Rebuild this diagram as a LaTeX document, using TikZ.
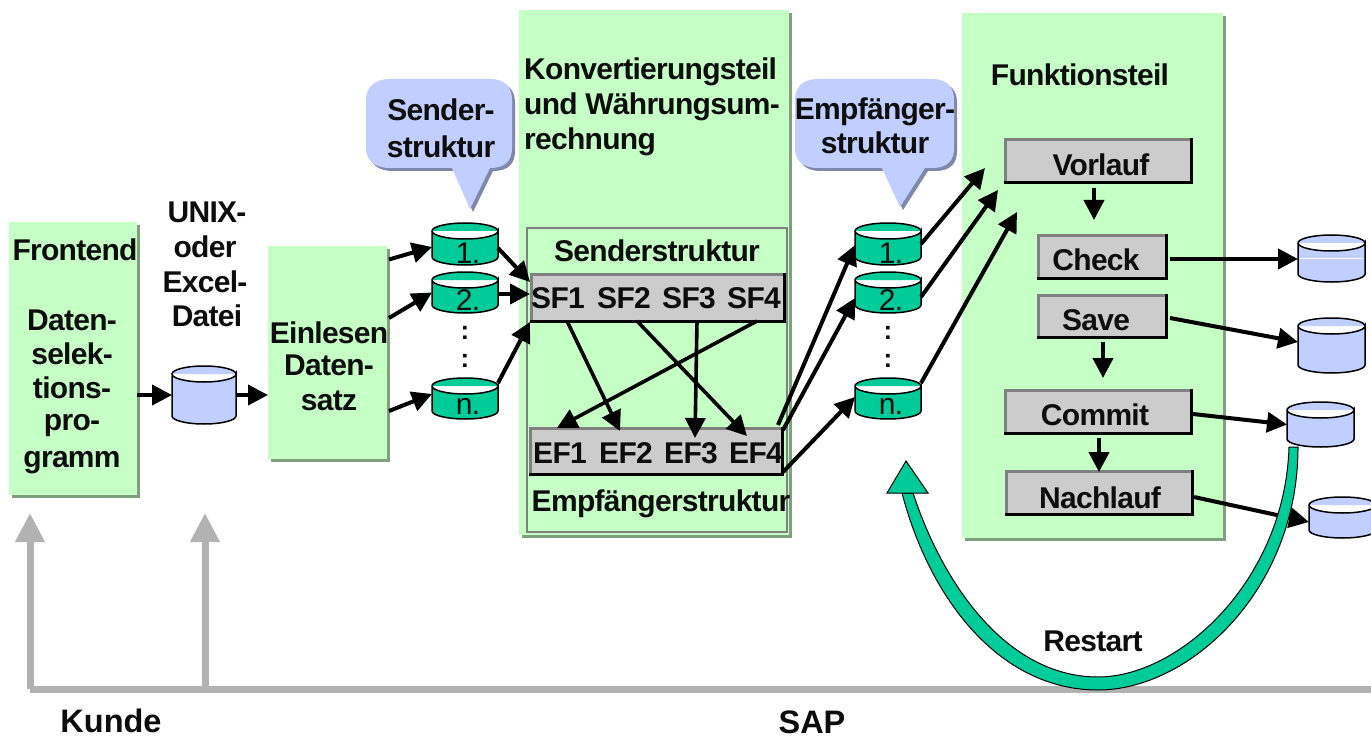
\documentclass[tikz,border=0pt]{standalone}
\usepackage{fontspec}
\setmainfont[LetterSpace=-2.4]{Liberation Sans}
\newfontfamily\widefont{Liberation Sans}
\usetikzlibrary{arrows.meta,calc}
\definecolor{panelgreen}{HTML}{C6FFC6}
\definecolor{panelshadow}{HTML}{7F9F7F}
\definecolor{boxgray}{HTML}{CCCCCC}
\definecolor{edgegray}{HTML}{808080}
\definecolor{cylgreen}{HTML}{00CC99}
\definecolor{cylblue}{HTML}{C0CFFF}
\definecolor{callshadow}{HTML}{8088AA}
\definecolor{linegray}{HTML}{B2B2B2}
\tikzset{
  x=1pt,y=-1pt,
  lbl/.style={font=\fontsize{30}{32}\selectfont\bfseries,inner sep=0pt,text=black!95},
  big/.style={font=\widefont\fontsize{32.5}{34}\selectfont\bfseries,inner sep=0pt,text=black!95},
  num/.style={font=\fontsize{30}{32}\selectfont,inner sep=0pt,text=black!95},
  dots/.style={font=\fontsize{26}{28}\selectfont\bfseries,inner sep=0pt,text=black!95},
  arr/.style={line width=4pt,-{Triangle[length=20pt,width=20pt]}},
  arrthin/.style={line width=3.6pt,-{Triangle[length=20pt,width=20pt]}},
  grayarr/.style={draw=linegray,line width=7pt,-{Triangle[length=29pt,width=28pt,fill=linegray]}},
  anchorbox/.style={inner sep=0pt,outer sep=0pt}
}
% panel with a drop edge
\newcommand{\panelbox}[5]{%
  \fill[panelshadow] (#2+3,#3+3) rectangle (#4+3,#5+3);
  \node[anchorbox,fill=panelgreen,minimum width={(#4-#2)*1pt},minimum height={(#5-#3)*1pt}] (#1) at ({(#2+#4)/2},{(#3+#5)/2}) {};
}
% gray raised box
\newcommand{\raisedbox}[5]{%
  \node[anchorbox,fill=boxgray,minimum width={(#4-#2)*1pt},minimum height={(#5-#3)*1pt}] (#1) at ({(#2+#4)/2},{(#3+#5)/2}) {};
  \draw[edgegray,line width=3pt,line cap=rect] (#1.south west) -- (#1.north west) -- (#1.north east);
  \draw[black,line width=3pt,line cap=rect] (#1.north east) -- (#1.south east) -- (#1.south west);
}
% cylinder
\newcommand{\drumnode}[6]{%
  \pgfmathsetmacro{\xm}{(#2+#4)/2}\pgfmathsetmacro{\rx}{(#4-#2)/2}
  \pgfmathsetmacro{\kx}{0.55*\rx}\def\ry{8}\pgfmathsetmacro{\ky}{0.55*\ry}
  \pgfmathsetmacro{\yt}{#3+\ry}\pgfmathsetmacro{\yb}{#5-\ry}
  \node[anchorbox,minimum width={(#4-#2)*1pt},minimum height={(#5-#3)*1pt}] (#1) at ({\xm},{(#3+#5)/2}) {};
  \draw[fill=#6,line width=1.5pt] (#2,\yt) -- (#2,\yb)
     .. controls (#2,\yb+\ky) and (\xm-\kx,#5) .. (\xm,#5)
     .. controls (\xm+\kx,#5) and (#4,\yb+\ky) .. (#4,\yb) -- (#4,\yt)
     .. controls (#4,\yt+\ky) and (\xm+\kx,\yt+\ry) .. (\xm,\yt+\ry)
     .. controls (\xm-\kx,\yt+\ry) and (#2,\yt+\ky) .. (#2,\yt)
     .. controls (#2,\yt-\ky) and (\xm-\kx,#3) .. (\xm,#3)
     .. controls (\xm+\kx,#3) and (#4,\yt-\ky) .. (#4,\yt);
}
\begin{document}
\begin{tikzpicture}
\useasboundingbox (0,0) rectangle (1371,738);
\fill[white] (0,0) rectangle (1371,738);

% panels
\panelbox{front}{9}{222}{137}{495}
\panelbox{read}{268}{246}{387}{459}
\panelbox{konv}{519}{10}{789}{535}
\panelbox{funk}{962}{13}{1223}{538}

% gray base line + arrows
\coordinate (baseL) at (30,689);
\coordinate (baseR) at (1371,689);
\coordinate (baseM) at (205,689);
\coordinate (upL) at (30,513);
\coordinate (upM) at (205,513);
\draw[draw=linegray,line width=7pt] (baseL) -- (baseR);
\draw[grayarr] (baseL) -- (upL);
\draw[grayarr] (baseM) -- (upM);

% inner frame
\node[anchorbox,draw=edgegray,line width=1.8pt,minimum width=260pt,minimum height=304pt] (inner) at (657,380) {};

% callouts
\foreach \dx/\col in {3/callshadow,0/cylblue}{
  \fill[\col,shift={(\dx,\dx)}] (390,79) -- (490,79)
    .. controls (506,79) and (512,88) .. (512,100) -- (512,148)
    .. controls (512,160) and (506,168) .. (490,168) -- (490,168) -- (470,209) -- (452,168) -- (390,168)
    .. controls (374,168) and (366,160) .. (366,148) -- (366,100)
    .. controls (366,88) and (374,79) .. (390,79) -- cycle;
  \fill[\col,shift={(\dx,\dx)}] (818,79) -- (932,79)
    .. controls (948,79) and (954,88) .. (954,100) -- (954,148)
    .. controls (954,160) and (948,168) .. (932,168) -- (925,168) -- (900,207) -- (882,168) -- (818,168)
    .. controls (802,168) and (795,160) .. (795,148) -- (795,100)
    .. controls (795,88) and (802,79) .. (818,79) -- cycle;
}

% gray raised boxes
\raisedbox{sf}{531}{274}{784}{321}
\raisedbox{ef}{530}{428}{782}{474}
\raisedbox{vor}{1005}{140}{1191}{183}
\raisedbox{chk}{1038}{236}{1166}{278}
\raisedbox{sav}{1038}{295}{1166}{337}
\raisedbox{com}{1005}{390}{1191}{433}
\raisedbox{nach}{1006}{471}{1192}{514}

% drums
\drumnode{file}{172}{366}{236}{424}{cylblue}
\drumnode{sa}{432}{223}{498}{265}{cylgreen}
\drumnode{sb}{432}{272}{498}{313}{cylgreen}
\drumnode{sn}{432}{378}{498}{419}{cylgreen}
\drumnode{ea}{855}{223}{921}{265}{cylgreen}
\drumnode{eb}{855}{272}{921}{313}{cylgreen}
\drumnode{en}{855}{378}{921}{419}{cylgreen}
\drumnode{da}{1298}{235}{1365}{282}{cylblue}
\drumnode{db}{1298}{318}{1365}{373}{cylblue}
\drumnode{dc}{1287}{402}{1354}{447}{cylblue}
\drumnode{dd}{1309}{497}{1376}{538}{cylblue}
\draw[white,line width=.8pt] ([xshift=2pt]da.west) -- ([xshift=-2pt]da.east);

% connectors
\draw[arr] (front.east|-file) -- (file.west);
\draw[arr] (file.east) -- (read.west|-file);
\draw[arr] ([xshift=2pt,yshift=93pt]read.east) -- ([yshift=-3pt]sa.west);
\draw[arr] ([xshift=2pt,yshift=34.5pt]read.east) -- (sb.west);
\draw[arr] ([xshift=2pt,yshift=-58.5pt]read.east) -- ([yshift=4.5pt]sn.west);
\draw[arr] ([yshift=-4pt]sa.east) -- ([xshift=-1pt,yshift=-8pt]sf.north west);
\draw[arr] ([yshift=-1.5pt]sb.east) -- ([xshift=-1pt,yshift=3.5pt]sf.west);
\draw[arr] ([yshift=15.5pt]sn.east) -- ([xshift=-1pt,yshift=-1pt]sf.south west);
\draw[arrthin] ([xshift=36pt]sf.south west) -- ([xshift=90pt,yshift=-3pt]ef.north west);
\draw[arrthin] ([xshift=106pt]sf.south west) -- ([xshift=217pt,yshift=-8pt]ef.north west);
\draw[arrthin] ([xshift=166pt]sf.south west) -- ([xshift=165pt,yshift=-10pt]ef.north west);
\draw[arrthin] ([xshift=226pt]sf.south west) -- ([xshift=27pt]ef.north west);
\draw[arr] ([xshift=-4pt,yshift=3pt]ef.north east) -- ([yshift=-1pt]ea.west);
\draw[arr] ([xshift=1pt,yshift=-2pt]ef.north east) -- ([yshift=-5.5pt]eb.west);
\draw[arr] ([xshift=1pt,yshift=2pt]ef.south east) -- ([yshift=1.5pt]en.west);
\draw[arr] (ea.east) -- ([xshift=-20pt,yshift=-6.5pt]vor.west);
\draw[arr] ([yshift=-4.5pt]eb.east) -- ([xshift=-7pt,yshift=-28.5pt]vor.west);
\draw[arr] ([yshift=15.5pt]en.east) -- ([xshift=12pt,yshift=-50.5pt]vor.west);
\draw[arr] ([xshift=-4pt,yshift=-5pt]vor.south) -- ([xshift=-8pt,yshift=16pt]chk.north);
\draw[arr] ([xshift=1pt,yshift=-5pt]sav.south) -- ([xshift=5pt,yshift=12pt]com.north);
\draw[arr] ([xshift=1pt,yshift=-5pt]com.south) -- ([yshift=-1pt]nach.north);
\draw[arr] ([xshift=4pt,yshift=-2pt]chk.east) -- ([yshift=-0.5pt]da.west);
\draw[arr] ([xshift=4pt,yshift=-2pt]sav.east) -- ([yshift=3.5pt]db.west);
\draw[arr] ([xshift=2pt,yshift=-2.5pt]com.east) -- (dc.west);
\draw[arr] ([xshift=2pt,yshift=-4.5pt]nach.east) -- ([yshift=-4.5pt]dd.west);

% restart band
\draw[fill=cylgreen,line width=1pt] (1298,447)
   .. controls (1298,590) and (1190,690) .. (1098,690)
   .. controls (1000,690) and (930,600) .. (902,493)
   -- (913,493)
   .. controls (945,590) and (1010,677) .. (1098,677)
   .. controls (1180,677) and (1285,580) .. (1289,447) -- cycle;
\draw[fill=cylgreen,line width=1pt] (906,461) -- (887,493) -- (928,493) -- cycle;

% texts
\node[lbl] (t01) at (75,250) {Frontend};
\node[lbl] (t02) at (72,320) {Daten-};
\node[lbl] (t03) at (72,354) {selek-};
\node[lbl] (t04) at (72,388) {tions-};
\node[lbl] (t05) at (72,426) {pro-};
\node[lbl] (t06) at (72,463) {gramm};
\node[lbl] (t07) at (207,212) {UNIX-};
\node[lbl] (t08) at (205,247) {oder};
\node[lbl] (t09) at (205,282) {Excel-};
\node[lbl] (t10) at (207,316) {Datei};
\node[lbl] (t11) at (329,333) {Einlesen};
\node[lbl] (t12) at (329,365) {Daten-};
\node[lbl] (t13) at (329,401) {satz};
\node[lbl] (t14) at (441,110) {Sender-};
\node[lbl] (t15) at (441,147) {struktur};
\node[lbl,anchor=west] (t16) at (524,72) {Konvertierungsteil};
\node[lbl,anchor=west] (t17) at (524,107) {und Währungsum-};
\node[lbl,anchor=west] (t18) at (524,142) {rechnung};
\node[lbl] (t19) at (875,112) {Empfänger-};
\node[lbl] (t20) at (875,143) {struktur};
\node[lbl] (t21) at (1080,75) {Funktionsteil};
\node[lbl] (t22) at (657,251) {Senderstruktur};
\node[lbl] (t23) at (661,504) {Empfängerstruktur};
\node[lbl] (t24) at (558,298) {SF1};
\node[lbl] (t25) at (624,298) {SF2};
\node[lbl] (t26) at (689,298) {SF3};
\node[lbl] (t27) at (754,298) {SF4};
\node[lbl] (t28) at (560,453) {EF1};
\node[lbl] (t29) at (626,453) {EF2};
\node[lbl] (t30) at (691,453) {EF3};
\node[lbl] (t31) at (756,453) {EF4};
\node[lbl] (t32) at (1101,165) {Vorlauf};
\node[lbl] (t33) at (1096,260) {Check};
\node[lbl] (t34) at (1096,320) {Save};
\node[lbl] (t35) at (1095,415) {Commit};
\node[lbl] (t36) at (1100,498) {Nachlauf};
\node[lbl] (t37) at (1093,641) {Restart};
\node[big] (t38) at (111,721) {Kunde};
\node[big] (t39) at (812,722) {SAP};
\node[num] (n1) at (468,253) {1.};
\node[num] (n2) at (468,300) {2.};
\node[num] (n3) at (468,406) {n.};
\node[num] (n4) at (891,253) {1.};
\node[num] (n5) at (891,300) {2.};
\node[num] (n6) at (891,406) {n.};
\node[dots] (dsa) at (465,332.5) {:};
\node[dots] (dsb) at (465,361) {:};
\node[dots] (dea) at (888,332.5) {:};
\node[dots] (deb) at (888,361) {:};
\end{tikzpicture}
\end{document}
